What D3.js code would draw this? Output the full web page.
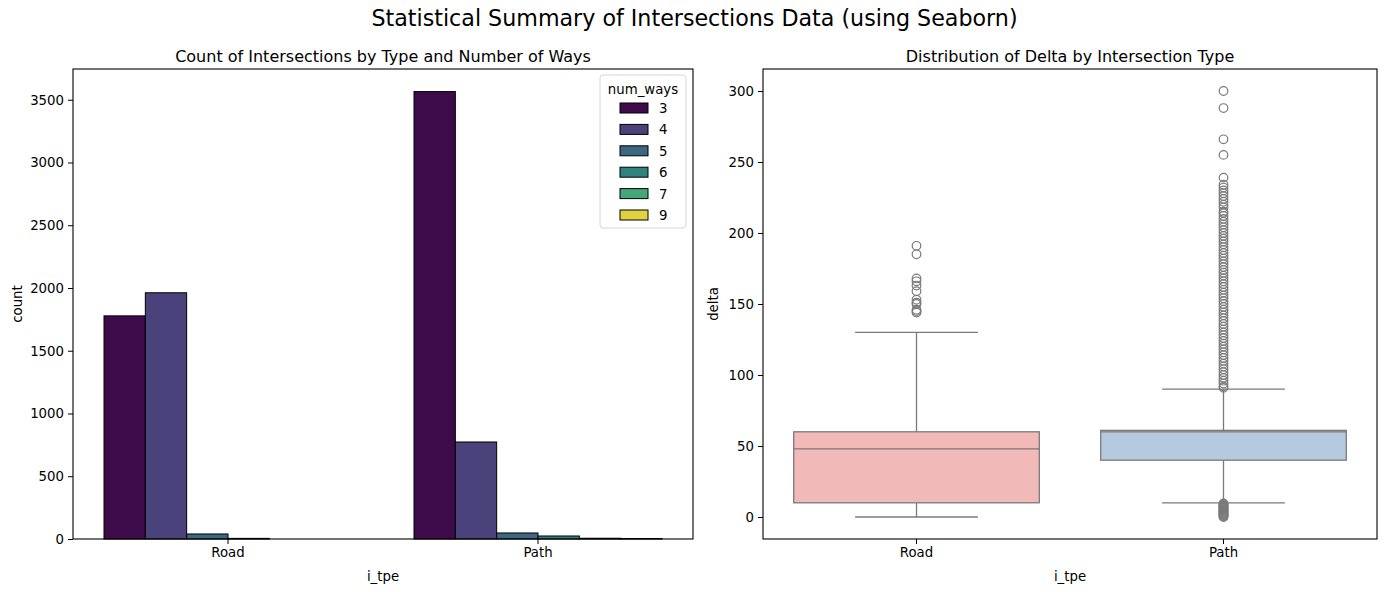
<!DOCTYPE html>
<html><head><meta charset="utf-8">
<script src="https://cdn.jsdelivr.net/npm/d3@7"></script>
<style>body{margin:0;background:#fff}svg{display:block;font-family:"DejaVu Sans",sans-serif}</style>
</head><body><svg id="c" width="1389" height="592"></svg>
<script>
// ---- data ----
const categories = ["Road", "Path"];
const numWays = [3, 4, 5, 6, 7, 9];
const roadCounts = [1778, 1962, 40, 5, 0, 0];
const pathCounts = [3565, 773, 48, 24, 6, 4];
const countTicks = [0, 500, 1000, 1500, 2000, 2500, 3000, 3500];

const boxQ1 = [10, 40];
const boxMedian = [48, 60];
const boxQ3 = [60, 61];
const whiskerLow = [0, 10];
const whiskerHigh = [130, 90];
const roadOutliers = [191, 185, 168, 166, 163, 159, 153, 151, 150, 146, 145, 144];
const pathOutliers = [300, 288, 266, 255, 239, 234, 232, 230, 228, 226, 224, 222, 220, 218, 215, 214, 212, 210, 208, 206, 204, 202, 200, 198, 196, 194, 192, 190, 188, 186, 184, 182, 180, 178, 176, 174, 172, 170, 168, 166, 164, 162, 160, 158, 156, 154, 152, 150, 148, 146, 144, 142, 140, 138, 136, 134, 132, 130, 128, 126, 124, 122, 120, 118, 116, 114, 112, 110, 108, 106, 104, 102, 100, 98, 96, 94, 92, 91,
  9.5, 9, 8.5, 8, 7.5, 7, 6.5, 6, 5.5, 5, 4.5, 4, 3.5, 3, 2.5, 2, 1.5, 1, 0.5, 0];
const deltaTicks = [0, 50, 100, 150, 200, 250, 300];
const boxColors = ["#f1b9b7", "#b5cade"];

// ---- drawing ----
const svg = d3.select("#c");
const FS = 13.3;
const lineGray = "#7a7a7a";

svg.append("text").attr("x", 694.5).attr("y", 26).attr("text-anchor", "middle")
  .attr("font-size", 22.2).text("Statistical Summary of Intersections Data (using Seaborn)");

function desat(c, p) { const h = d3.hsl(c); h.s *= p; return h.formatHex(); }
const hueColor = d3.scaleLinear().domain([3, 9]).range([0, 1]);
const colorOf = w => desat(d3.interpolateViridis(hueColor(w)), 0.75);

// Left panel
const L = {x0: 73, x1: 693, y0: 69, y1: 539};
const xL = d3.scaleBand().domain(categories).range([L.x0, L.x1]).padding(0);
const xInner = d3.scaleBand().domain(numWays).range([0, xL.bandwidth() * 0.8]).padding(0);
const yL = d3.scaleLinear().domain([0, 3745]).range([L.y1, L.y0]);
const gL = svg.append("g");
const countsBy = {Road: roadCounts, Path: pathCounts};
categories.forEach(cat => {
  numWays.forEach((w, i) => {
    const v = countsBy[cat][i];
    if (v <= 0) return;
    gL.append("rect")
      .attr("x", xL(cat) + xL.bandwidth() * 0.1 + xInner(w))
      .attr("y", yL(v)).attr("width", xInner.bandwidth())
      .attr("height", yL(0) - yL(v))
      .attr("fill", colorOf(w)).attr("stroke", "#000").attr("stroke-width", 1);
  });
});
const axL = gL.append("g").attr("transform", `translate(${L.x0},0)`)
  .call(d3.axisLeft(yL).tickValues(countTicks).tickFormat(d3.format("d")).tickSize(5).tickPadding(4));
const axLb = gL.append("g").attr("transform", `translate(0,${L.y1})`)
  .call(d3.axisBottom(xL).tickSize(5).tickPadding(4));
[axL, axLb].forEach(a => { a.selectAll("text").attr("font-size", FS).attr("font-family", "DejaVu Sans").attr("fill", "#000"); a.select(".domain").remove(); });
gL.append("rect").attr("x", L.x0).attr("y", L.y0).attr("width", L.x1 - L.x0).attr("height", L.y1 - L.y0)
  .attr("fill", "none").attr("stroke", "#000").attr("stroke-width", 1.1);
gL.append("text").attr("x", (L.x0 + L.x1) / 2).attr("y", 62).attr("text-anchor", "middle").attr("font-size", 16)
  .text("Count of Intersections by Type and Number of Ways");
gL.append("text").attr("x", (L.x0 + L.x1) / 2).attr("y", 581).attr("text-anchor", "middle").attr("font-size", FS).text("i_tpe");
gL.append("text").attr("transform", "translate(22,304) rotate(-90)").attr("text-anchor", "middle").attr("font-size", FS).text("count");

// legend
const lg = gL.append("g");
lg.append("rect").attr("x", 600).attr("y", 75).attr("width", 86).attr("height", 153).attr("rx", 3)
  .attr("fill", "#fff").attr("fill-opacity", 0.8).attr("stroke", "#d6d6d6");
lg.append("text").attr("x", 643).attr("y", 94).attr("text-anchor", "middle").attr("font-size", FS).text("num_ways");
numWays.forEach((w, i) => {
  const yy = 103 + i * 21.4;
  lg.append("rect").attr("x", 620).attr("y", yy).attr("width", 28).attr("height", 10)
    .attr("fill", colorOf(w)).attr("stroke", "#000").attr("stroke-width", 1);
  lg.append("text").attr("x", 659).attr("y", yy + 10).attr("font-size", FS).text(w);
});

// Right panel
const R = {x0: 763, x1: 1377, y0: 69, y1: 539};
const xR = d3.scaleBand().domain(categories).range([R.x0, R.x1]).padding(0);
const yR = d3.scaleLinear().domain([-15.5, 315.5]).range([R.y1, R.y0]);
const gR = svg.append("g");
const outliersBy = [roadOutliers, pathOutliers];
categories.forEach((cat, i) => {
  const bw = xR.bandwidth() * 0.8;
  const cx = xR(cat) + xR.bandwidth() / 2;
  const x0 = cx - bw / 2;
  gR.append("line").attr("x1", cx).attr("x2", cx).attr("y1", yR(whiskerLow[i])).attr("y2", yR(boxQ1[i])).attr("stroke", lineGray).attr("stroke-width", 1.3);
  gR.append("line").attr("x1", cx).attr("x2", cx).attr("y1", yR(whiskerHigh[i])).attr("y2", yR(boxQ3[i])).attr("stroke", lineGray).attr("stroke-width", 1.3);
  [whiskerLow[i], whiskerHigh[i]].forEach(v => gR.append("line").attr("x1", cx - bw / 4).attr("x2", cx + bw / 4)
    .attr("y1", yR(v)).attr("y2", yR(v)).attr("stroke", lineGray).attr("stroke-width", 1.3));
  gR.append("rect").attr("x", x0).attr("y", yR(boxQ3[i])).attr("width", bw).attr("height", yR(boxQ1[i]) - yR(boxQ3[i]))
    .attr("fill", boxColors[i]).attr("stroke", lineGray).attr("stroke-width", 1.3);
  gR.append("line").attr("x1", x0).attr("x2", x0 + bw).attr("y1", yR(boxMedian[i])).attr("y2", yR(boxMedian[i]))
    .attr("stroke", lineGray).attr("stroke-width", 1.3);
  outliersBy[i].forEach(v => gR.append("circle").attr("cx", cx).attr("cy", yR(v)).attr("r", 4.3)
    .attr("fill", "none").attr("stroke", lineGray).attr("stroke-width", 1.2));
});
const axR = gR.append("g").attr("transform", `translate(${R.x0},0)`)
  .call(d3.axisLeft(yR).tickValues(deltaTicks).tickFormat(d3.format("d")).tickSize(5).tickPadding(4));
const axRb = gR.append("g").attr("transform", `translate(0,${R.y1})`)
  .call(d3.axisBottom(xR).tickSize(5).tickPadding(4));
[axR, axRb].forEach(a => { a.selectAll("text").attr("font-size", FS).attr("font-family", "DejaVu Sans").attr("fill", "#000"); a.select(".domain").remove(); });
gR.append("rect").attr("x", R.x0).attr("y", R.y0).attr("width", R.x1 - R.x0).attr("height", R.y1 - R.y0)
  .attr("fill", "none").attr("stroke", "#000").attr("stroke-width", 1.1);
gR.append("text").attr("x", (R.x0 + R.x1) / 2).attr("y", 62).attr("text-anchor", "middle").attr("font-size", 16)
  .text("Distribution of Delta by Intersection Type");
gR.append("text").attr("x", (R.x0 + R.x1) / 2).attr("y", 581).attr("text-anchor", "middle").attr("font-size", FS).text("i_tpe");
gR.append("text").attr("transform", "translate(718,304) rotate(-90)").attr("text-anchor", "middle").attr("font-size", FS).text("delta");
</script></body></html>
